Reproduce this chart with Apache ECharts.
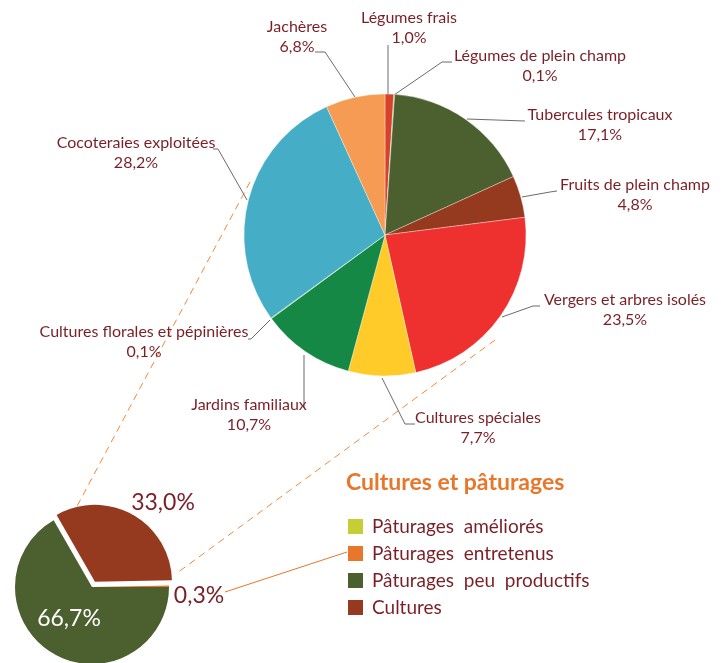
<!DOCTYPE html>
<html>
<head>
<meta charset="utf-8">
<script src="https://cdn.jsdelivr.net/npm/echarts@6/dist/echarts.min.js"></script>
<style>
html, body { margin: 0; padding: 0; background: #fff; }
#chart { width: 725px; height: 663px; }
</style>
</head>
<body>
<div id="chart"></div>
<script>
// détail des cultures (% de la surface cultivée)
const cultureNames = [
	"Légumes frais",
	"Légumes de plein champ",
	"Tubercules tropicaux",
	"Fruits de plein champ",
	"Vergers et arbres isolés",
	"Cultures spéciales",
	"Jardins familiaux",
	"Cultures florales et pépinières",
	"Cocoteraies exploitées",
	"Jachères",
];
const cultureValues = [1.0, 0.1, 17.1, 4.8, 23.5, 7.7, 10.7, 0.1, 28.2, 6.8];

// cultures et pâturages (% de la SAU)
const pastureNames = ["Pâturages améliorés", "Pâturages entretenus", "Pâturages peu productifs", "Cultures"];
const pastureValues = [0.0, 0.3, 66.7, 33.0];

// couleurs
const cultureColors = ["#d9422a", "#6dbe5a", "#4b5f2f", "#963a1f", "#ee302f", "#ffcb29", "#168845", "#8dc63f", "#46adc6", "#f59b53"];
const pastureColors = ["#c5cf35", "#e8762b", "#4b5f2f", "#963a1f"];

const FONT = "Lato, 'Open Sans', sans-serif";
const TXT = "#7a1f26";

// emplacement des étiquettes (centre du bloc) et des traits de rappel
const mainLabelAt = [[409, 28], [540, 66], [600, 125], [635, 195], [625, 310], [478, 428], [249, 415], [144, 342], [136, 153], [297, 37]];
const mainLeaders = [
	[[388, 95], [388, 70], [388, 45]],
	[[394, 95], [442, 62], [452, 62]],
	[[467, 119], [496, 120], [525, 121]],
	[[522, 197], [550, 192], [557, 191]],
	[[502, 317], [533, 306], [540, 306]],
	[[382, 378], [405, 424], [415, 424]],
	[[304, 355], [304, 380], [304, 408]],
	[[270, 320], [251, 339], [248, 339]],
	[[247, 200], [218, 149], [213, 149]],
	[[355, 97], [325, 52], [315, 52]],
];
const smallLabelAt = [null, [199, 596], [69, 619], [163, 503]];

function pct(v) {
	return v.toFixed(1).replace(".", ",") + "%";
}

const chart = echarts.init(document.getElementById("chart"), null, { renderer: "canvas" });

const option = {
	animation: false,
	backgroundColor: "#fff",
	title: {
		text: "Cultures et pâturages",
		left: 346,
		top: 471,
		padding: 0,
		textStyle: { fontFamily: FONT, fontSize: 23, fontWeight: "bold", color: "#e8762b" },
	},
	legend: {
		orient: "vertical",
		left: 348,
		top: 517,
		padding: 0,
		icon: "rect",
		itemWidth: 15,
		itemHeight: 15,
		itemGap: 8,
		data: pastureNames,
		formatter: (n) => n.replace(/ /g, "  "),
		textStyle: { fontFamily: FONT, fontSize: 19, color: TXT, lineHeight: 15, padding: [0, 0, 0, 4] },
		selectedMode: false,
	},
	graphic: [
		// traits pointillés reliant le camembert principal à la part "Cultures"
		{ type: "line", shape: { x1: 250, y1: 182, x2: 75, y2: 510 }, style: { stroke: "#f08a3a", lineWidth: 1, lineDash: [7, 5] }, z: 1 },
		{ type: "line", shape: { x1: 495, y1: 340, x2: 177, y2: 573 }, style: { stroke: "#f08a3a", lineWidth: 1, lineDash: [7, 5] }, z: 1 },
		// trait vers la légende
		{ type: "line", shape: { x1: 225, y1: 592, x2: 347, y2: 552 }, style: { stroke: "#e8762b", lineWidth: 1 }, z: 1 },
		// étiquette de la part décalée (le labelLayout ne s'applique pas à la part sélectionnée)
		{
			type: "text",
			x: smallLabelAt[3][0],
			y: smallLabelAt[3][1],
			z: 5,
			style: { text: pct(pastureValues[3]), fontFamily: FONT, fontSize: 23, fill: TXT, align: "center", verticalAlign: "middle" },
		},
	],
	series: [
		{
			type: "pie",
			center: [385, 235],
			radius: 141,
			startAngle: 90,
			clockwise: true,
			avoidLabelOverlap: false,
			z: 3,
			itemStyle: { borderColor: "rgba(255,255,255,0.7)", borderWidth: 0.5 },
			label: {
				show: true,
				position: "outside",
				fontFamily: FONT,
				fontSize: 16,
				lineHeight: 20,
				color: TXT,
				formatter: (p) => p.name + "\n" + pct(p.value),
			},
			labelLine: { show: true, smooth: false, lineStyle: { color: "#6b6b6b", width: 1 } },
			labelLayout: (p) => {
				const a = mainLabelAt[p.dataIndex];
				return { x: a[0], y: a[1], align: "center", verticalAlign: "middle", labelLinePoints: mainLeaders[p.dataIndex] };
			},
			emphasis: { disabled: true },
			data: cultureNames.map((n, i) => ({ name: n, value: cultureValues[i], itemStyle: { color: cultureColors[i] } })),
		},
		{
			type: "pie",
			center: [92, 587],
			radius: 77,
			startAngle: pastureValues[1] * 3.6,
			clockwise: true,
			avoidLabelOverlap: false,
			selectedMode: "single",
			selectedOffset: 6,
			z: 3,
			itemStyle: { borderWidth: 0 },
			label: {
				show: true,
				position: "outside",
				fontFamily: FONT,
				fontSize: 23,
				color: TXT,
				formatter: (p) => pct(p.value),
			},
			labelLine: { show: false },
			labelLayout: (p) => {
				const a = smallLabelAt[p.dataIndex];
				if (!a) return {};
				return { x: a[0], y: a[1], align: "center", verticalAlign: "middle" };
			},
			emphasis: { disabled: true },
			data: pastureNames.map((n, i) => ({
				name: n,
				value: pastureValues[i],
				selected: i === 3,
				itemStyle: { color: pastureColors[i] },
				label: { show: pastureValues[i] > 0 && i !== 3, color: i === 2 ? "#fff" : TXT },
			})),
		},
	],
};

chart.setOption(option);
window.addEventListener("resize", () => chart.resize());
</script>
</body>
</html>
